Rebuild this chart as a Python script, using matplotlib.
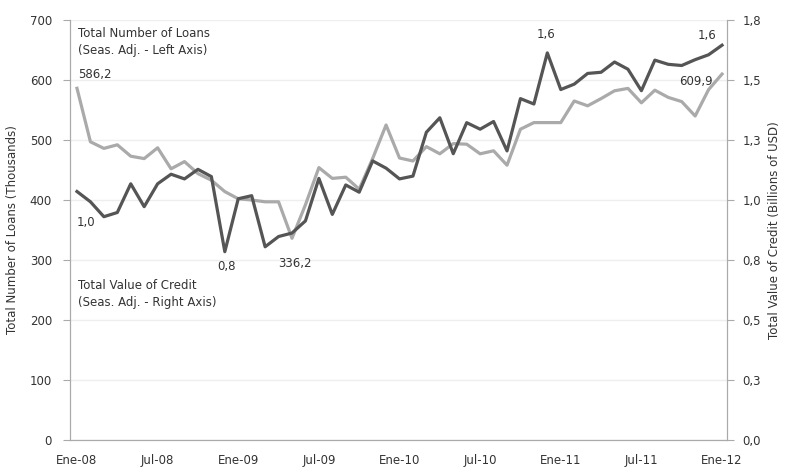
import numpy as np
import matplotlib
matplotlib.use('Agg')
import matplotlib.pyplot as plt
from matplotlib.ticker import FuncFormatter

# monthly, Ene-08 .. Ene-12
loans = [586.2, 497, 486, 492, 473, 469, 487, 452, 464, 444, 433, 414, 402,
         400, 397, 397, 336.2, 392, 454, 436, 438, 418, 469, 525, 470, 465,
         489, 477, 494, 493, 477, 482, 458, 518, 529, 529, 529, 565, 557, 569,
         582, 586, 562, 583, 571, 564, 540, 584, 609.9]
credit = [1.065, 1.021, 0.957, 0.975, 1.098, 1.000, 1.098, 1.139, 1.119, 1.160,
          1.129, 0.807, 1.034, 1.047, 0.828, 0.872, 0.887, 0.939, 1.121, 0.967,
          1.093, 1.062, 1.196, 1.165, 1.119, 1.131, 1.319, 1.381, 1.227, 1.360,
          1.332, 1.365, 1.239, 1.463, 1.440, 1.659, 1.502, 1.525, 1.571, 1.576,
          1.620, 1.589, 1.497, 1.628, 1.610, 1.605, 1.630, 1.651, 1.692]
xlabels = ['Ene-08', 'Jul-08', 'Ene-09', 'Jul-09', 'Ene-10', 'Jul-10',
           'Ene-11', 'Jul-11', 'Ene-12']

txt = '#333333'
axc = '#aaaaaa'
plt.rcParams['font.family'] = ['DejaVu Sans']
plt.rcParams['font.size'] = 8.5

fig = plt.figure(figsize=(7.85, 4.7), dpi=100)
ax = fig.add_axes([70 / 785, 30 / 470, 657 / 785, 420 / 470])
ax2 = ax.twinx()

x = np.arange(len(loans))
ax.plot(x, loans, color='#aaaaaa', lw=2.3, zorder=3)
ax2.plot(x, credit, color='#555555', lw=2.3, zorder=4)

ax.set_xlim(-0.52, 48.37)
ax.set_ylim(0, 700)
ax2.set_ylim(0, 1.8)
ax.set_yticks(range(0, 701, 100))
ax2.set_yticks(np.linspace(0, 1.8, 8))
ax2.yaxis.set_major_formatter(FuncFormatter(lambda v, p: f'{v:.1f}'.replace('.', ',')))
ax.set_xticks(range(0, 49, 6))
ax.set_xticklabels(xlabels)
ax.tick_params(axis='x', length=0, pad=10, colors=txt)
ax.tick_params(axis='y', length=5, color=axc, labelcolor=txt, pad=8)
ax2.tick_params(axis='y', length=5, color=axc, labelcolor=txt, pad=6)
ax.grid(axis='y', color='#eeeeee', lw=1, zorder=0)

for a in (ax, ax2):
    a.spines['top'].set_visible(False)
    for s in ('left', 'right', 'bottom'):
        a.spines[s].set_color(axc)

ax.set_ylabel('Total Number of Loans (Thousands)', color=txt, labelpad=8)
ax2.set_ylabel('Total Value of Credit (Billions of USD)', color=txt, labelpad=5)

ax.text(0.012, 0.983, 'Total Number of Loans\n(Seas. Adj. - Left Axis)',
        transform=ax.transAxes, va='top', ha='left', color=txt, linespacing=1.35)
ax.text(0.012, 0.383, 'Total Value of Credit\n(Seas. Adj. - Right Axis)',
        transform=ax.transAxes, va='top', ha='left', color=txt, linespacing=1.35)

ax.annotate('586,2', (0, loans[0]), xytext=(1, 5), textcoords='offset points',
            ha='left', va='bottom', color=txt)
ax.annotate('336,2', (16, loans[16]), xytext=(-10, -18), textcoords='offset points',
            ha='left', va='center', color=txt)
ax.annotate('609,9', (48, loans[48]), xytext=(-7, -5), textcoords='offset points',
            ha='right', va='center', color=txt)
ax2.annotate('1,0', (0, credit[0]), xytext=(0, -22), textcoords='offset points',
             ha='left', va='center', color=txt)
ax2.annotate('0,8', (11, credit[11]), xytext=(1, -11), textcoords='offset points',
             ha='center', va='center', color=txt)
ax2.annotate('1,6', (35, credit[35]), xytext=(-1, 13), textcoords='offset points',
             ha='center', va='center', color=txt)
ax2.annotate('1,6', (48, credit[48]), xytext=(-11, 7), textcoords='offset points',
             ha='center', va='center', color=txt)

plt.savefig('out.png', dpi=100)
